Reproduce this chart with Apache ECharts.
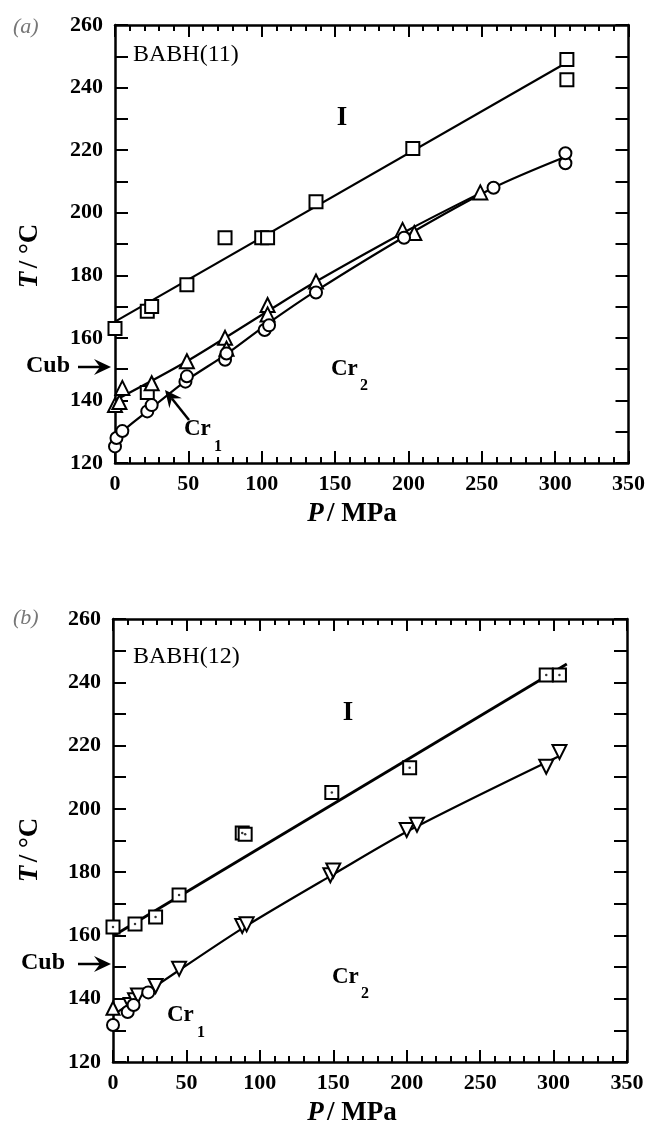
<!DOCTYPE html>
<html>
<head>
<meta charset="utf-8">
<title>BABH phase diagrams</title>
<script src="https://cdn.jsdelivr.net/npm/echarts@6/dist/echarts.min.js"></script>
<style>
  html, body { margin: 0; padding: 0; background: #fff; }
  #chart { width: 648px; height: 1129px; }
</style>
</head>
<body>
<div id="chart"></div>
<script>
// tick labels
const pTicks = [0, 50, 100, 150, 200, 250, 300, 350];
const tTicks = [120, 140, 160, 180, 200, 220, 240, 260];

// (a) BABH(11): measured points [P / MPa, T / °C]
const aSquares = [[0, 163], [22, 168.5], [25, 170], [22, 142.5], [49, 177], [75, 192], [100, 192], [104, 192],
  [137, 203.5], [203, 220.5], [308, 249], [308, 242.5]];
const aTriangles = [[0, 138.5], [3, 139.5], [5, 144], [25, 145.5], [49, 152.5], [75, 160], [76, 156.5],
  [104, 170.5], [104, 167.5], [137, 178], [196, 194.5], [204, 193.5], [249, 206.5]];
const aCircles = [[0, 125.3], [1, 128], [5, 130.2], [22, 136.5], [25, 138.5], [48, 146], [49, 147.7], [75, 153],
  [76, 155], [102, 162.5], [105, 164], [137, 174.5], [197, 192], [258, 208], [307, 215.8], [307, 219]];
// (a) drawn phase boundaries
const aSquareFit = [[0, 165.2], [305, 247.2]];
const aTriangleFit = [[0, 140], [49, 152.5], [104, 168.5], [137, 178], [200, 194.5], [250, 206.5]];
const aCircleFit = [[0, 126.5], [5, 130], [22, 136.5], [49, 146.5], [75, 154.5], [104, 164.5], [137, 175],
  [198, 192.5], [258, 208], [305, 217.5]];

// (b) BABH(12)
const bSquares = [[0, 162.7], [15, 163.6], [29, 165.8], [45, 172.8], [88, 192.4], [90, 192], [149, 205.2],
  [202, 213], [295, 242.3], [304, 242.3]];
const bDownTriangles = [[12, 138], [15, 139.5], [17, 141], [29, 144], [45, 149.5], [88, 163], [91, 163.5],
  [148, 179], [150, 180.5], [200, 193.3], [207, 195], [295, 213.3], [304, 218]];
const bCircles = [[0, 131.7], [10, 135.8], [14, 138], [24, 142]];
const bTriangles = [[0, 137]];
const bSquareFit = [[0, 159.8], [309, 245.8]];
const bDownFit = [[0, 134.8], [45, 149], [90, 162.8], [150, 179.3], [205, 194], [303, 216.5]];

const SERIF = '"Liberation Serif", "Times New Roman", serif';

function xAxis(gridIndex, position, labels) {
  return {
    type: 'value', gridIndex: gridIndex, position: position,
    min: pTicks[0], max: pTicks[pTicks.length - 1], interval: 50,
    axisLine: { show: true, onZero: false, lineStyle: { color: '#000', width: 2.5 } },
    axisTick: { show: true, inside: true, length: 12, lineStyle: { color: '#000', width: 2 } },
    minorTick: { show: true, splitNumber: 5, length: 6, lineStyle: { color: '#000', width: 2 } },
    splitLine: { show: false },
    axisLabel: {
      show: labels, margin: 10, color: '#000', fontFamily: SERIF, fontWeight: 'bold', fontSize: 22,
      showMinLabel: true, showMaxLabel: true
    }
  };
}

function yAxis(gridIndex, position, labels) {
  return {
    type: 'value', gridIndex: gridIndex, position: position,
    min: tTicks[0], max: tTicks[tTicks.length - 1], interval: labels ? 20 : 10,
    axisLine: { show: true, onZero: false, lineStyle: { color: '#000', width: 2.5 } },
    axisTick: { show: true, inside: true, length: 13, lineStyle: { color: '#000', width: 2 } },
    minorTick: { show: labels, splitNumber: 2, length: 13, lineStyle: { color: '#000', width: 2 } },
    splitLine: { show: false },
    axisLabel: {
      show: labels, margin: 12, color: '#000', fontFamily: SERIF, fontWeight: 'bold', fontSize: 22,
      showMinLabel: true, showMaxLabel: true
    }
  };
}

function fit(data, xi, smooth, width) {
  return {
    type: 'line', data: data, xAxisIndex: xi, yAxisIndex: xi, symbol: 'none', smooth: smooth,
    lineStyle: { color: '#000', width: width || 2.2 }, z: 2, silent: true
  };
}

function marks(data, xi, symbol, size, rotate) {
  return {
    type: 'scatter', data: data, xAxisIndex: xi, yAxisIndex: xi, symbol: symbol, symbolSize: size,
    symbolRotate: rotate || 0,
    itemStyle: { color: '#fff', borderColor: '#000', borderWidth: 2, opacity: 1 }, z: 3
  };
}

function dots(data, xi) {
  return {
    type: 'scatter', data: data, xAxisIndex: xi, yAxisIndex: xi, symbol: 'circle', symbolSize: 2.5,
    itemStyle: { color: '#000' }, z: 4
  };
}

function label(x, y, text, size, weight, extra) {
  return {
    type: 'text', x: x, y: y, z: 10,
    style: Object.assign({
      text: text, fill: '#000', fontFamily: SERIF, fontSize: size, fontWeight: weight || 'normal',
      textAlign: 'left', textVerticalAlign: 'middle'
    }, extra || {})
  };
}

function arrow(x1, y1, x2, y2) {
  // shaft from (x1,y1) to tip (x2,y2) with a notched head
  const dx = x2 - x1, dy = y2 - y1;
  const len = Math.sqrt(dx * dx + dy * dy);
  const ux = dx / len, uy = dy / len, nx = -uy, ny = ux;
  const hl = 17, hw = 8, notch = 11;
  return [
    { type: 'line', z: 10, shape: { x1: x1, y1: y1, x2: x2 - ux * notch, y2: y2 - uy * notch },
      style: { stroke: '#000', lineWidth: 2.5 } },
    { type: 'polygon', z: 10, shape: { points: [
      [x2, y2],
      [x2 - ux * hl + nx * hw, y2 - uy * hl + ny * hw],
      [x2 - ux * notch, y2 - uy * notch],
      [x2 - ux * hl - nx * hw, y2 - uy * hl - ny * hw]
    ] }, style: { fill: '#000' } }
  ];
}

function axisTitles(cx, cy, px, py) {
  const rich = {
    i: { fontFamily: SERIF, fontSize: 27, fontWeight: 'bold', fontStyle: 'italic', fill: '#000' },
    n: { fontFamily: SERIF, fontSize: 27, fontWeight: 'bold', fill: '#000' }
  };
  return [
    {
      type: 'text', x: cx, y: cy, rotation: Math.PI / 2, z: 10,
      style: { text: '{i|T} {n|/ °C}', textAlign: 'center', textVerticalAlign: 'middle', rich: rich }
    },
    {
      type: 'text', x: px, y: py, z: 10,
      style: { text: '{i|P} {n|/ MPa}', textAlign: 'center', textVerticalAlign: 'middle', rich: rich }
    }
  ];
}

const panelTag = { fill: '#777', fontStyle: 'italic' };
const centered = { textAlign: 'center' };

const chart = echarts.init(document.getElementById('chart'));

chart.setOption({
  animation: false,
  backgroundColor: '#fff',
  grid: [
    { left: 115, top: 25, width: 515, height: 438 },
    { left: 113, top: 619, width: 514, height: 443 }
  ],
  xAxis: [xAxis(0, 'bottom', true), xAxis(0, 'top', false), xAxis(1, 'bottom', true), xAxis(1, 'top', false)],
  yAxis: [yAxis(0, 'left', true), yAxis(0, 'right', false), yAxis(1, 'left', true), yAxis(1, 'right', false)],
  series: [
    // (a) BABH(11)
    fit(aSquareFit, 0, false),
    fit(aTriangleFit, 0, 0.3),
    fit(aCircleFit, 0, 0.3),
    marks(aSquares, 0, 'rect', 13),
    marks(aTriangles, 0, 'triangle', 14),
    marks(aCircles, 0, 'circle', 12),
    // (b) BABH(12)
    fit(bSquareFit, 2, false, 2.8),
    fit(bDownFit, 2, 0.3),
    marks(bSquares, 2, 'rect', 13),
    dots(bSquares, 2),
    marks(bDownTriangles, 2, 'triangle', 14, 180),
    marks(bCircles, 2, 'circle', 12),
    marks(bTriangles, 2, 'triangle', 13)
  ],
  graphic: [].concat(
    // panel (a)
    [
      label(13, 27, '(a)', 22, 'normal', panelTag),
      label(133, 55, 'BABH(11)', 24),
      label(342, 118, 'I', 27, 'bold', centered),
      label(26, 366, 'Cub', 24, 'bold'),
      label(331, 369, 'Cr', 23, 'bold'),
      label(360, 386, '2', 16, 'bold'),
      label(184, 429, 'Cr', 23, 'bold'),
      label(214, 447, '1', 16, 'bold')
    ],
    arrow(78, 367, 111, 367),
    arrow(189, 420, 165, 390),
    axisTitles(30, 256, 352, 514),
    // panel (b)
    [
      label(13, 618, '(b)', 22, 'normal', panelTag),
      label(133, 657, 'BABH(12)', 24),
      label(348, 713, 'I', 27, 'bold', centered),
      label(21, 963, 'Cub', 24, 'bold'),
      label(332, 977, 'Cr', 23, 'bold'),
      label(361, 994, '2', 16, 'bold'),
      label(167, 1015, 'Cr', 23, 'bold'),
      label(197, 1033, '1', 16, 'bold')
    ],
    arrow(78, 964, 111, 964),
    axisTitles(30, 850, 352, 1113)
  )
});
</script>
</body>
</html>
